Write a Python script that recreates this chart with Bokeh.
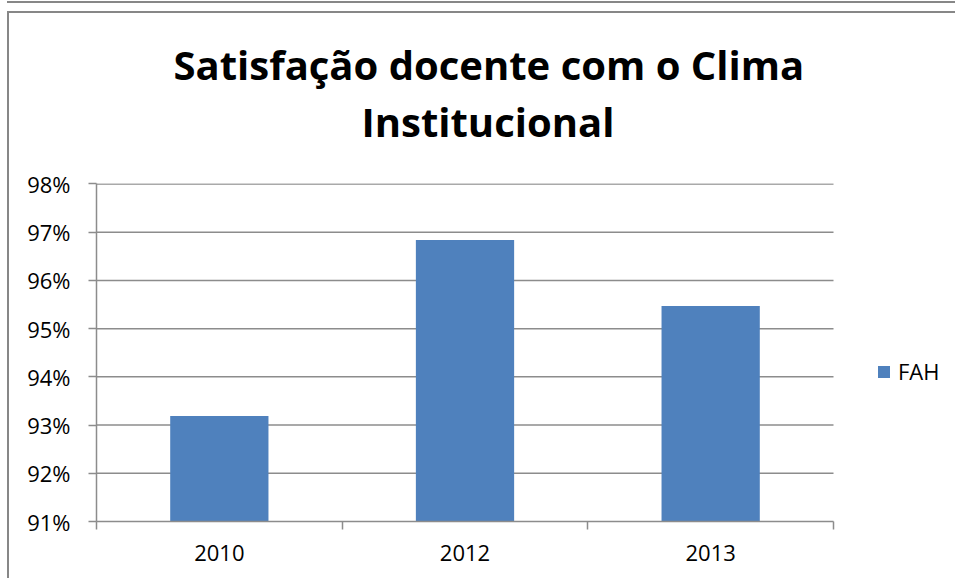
from bokeh.plotting import figure
from bokeh.models import (Range1d, FixedTicker, NumeralTickFormatter, Legend, LegendItem,
                          Title, ColumnDataSource)
from bokeh.embed import file_html
from bokeh.resources import INLINE

# ---- data ----
categories = ["2010", "2012", "2013"]
values = [0.9319, 0.9684, 0.9547]
series_name = "FAH"
y_ticks = [0.91, 0.92, 0.93, 0.94, 0.95, 0.96, 0.97, 0.98]
title_lines = ["Satisfação docente com o Clima", "Institucional"]

BAR = "#4F81BD"
GRID = "#8C8C8C"
BOX = "#878787"
FONT = "Open Sans"

# layout (pixels)
W, H = 948, 567
LEFT, TOP, BOTTOM = 87, 170, 59
PLOT_W = 737            # width of the category area
FRAME_W = W - LEFT      # frame runs to the right edge (room for the legend)

n = len(categories)
centers = [i + 0.5 for i in range(n)]
bounds = [float(i) for i in range(n + 1)]

p = figure(width=W, height=H, output_backend="svg", toolbar_location=None,
           x_range=Range1d(0, n * FRAME_W / PLOT_W),
           y_range=Range1d(y_ticks[0], y_ticks[-1] + 0.0001),
           min_border_left=LEFT, min_border_right=0, min_border_top=TOP,
           min_border_bottom=BOTTOM)
p.styles = {"margin-left": "7px", "margin-top": "11px",
            "border-left": f"2px solid {BOX}", "border-top": f"2px solid {BOX}",
            "box-shadow": f"0 -8px 0 0 white, 0 -10px 0 0 {BOX}"}
p.outline_line_color = None
p.background_fill_color = "white"
p.border_fill_color = "white"

# horizontal gridlines (limited to the category area)
grid_y = y_ticks[1:]
p.segment(x0=[0] * len(grid_y), x1=[n] * len(grid_y), y0=grid_y, y1=grid_y,
          line_color=GRID, line_width=1.5)

src = ColumnDataSource(dict(x=centers, top=values, cat=categories))
r = p.vbar(x="x", top="top", bottom=y_ticks[0] - 1, width=0.4, source=src,
           fill_color=BAR, line_color=None)

# axes
xa = p.xaxis[0]
xa.bounds = (0, n)
xa.ticker = FixedTicker(ticks=centers, minor_ticks=bounds)
xa.major_label_overrides = {c: lab for c, lab in zip(centers, categories)}
xa.major_tick_out = 0
xa.major_tick_in = 0
xa.minor_tick_out = 8
xa.minor_tick_in = 0
xa.minor_tick_line_color = GRID
xa.minor_tick_line_width = 1.5
xa.axis_line_color = GRID
xa.axis_line_width = 1.5
xa.major_label_text_font = FONT
xa.major_label_text_font_size = "22px"
xa.major_label_text_color = "black"
xa.major_label_standoff = 15

ya = p.yaxis[0]
ya.ticker = FixedTicker(ticks=y_ticks)
ya.formatter = NumeralTickFormatter(format="0%")
ya.major_tick_out = 8
ya.major_tick_in = 0
ya.minor_tick_out = 0
ya.minor_tick_in = 0
ya.major_tick_line_color = GRID
ya.major_tick_line_width = 1.5
ya.axis_line_color = GRID
ya.axis_line_width = 1.5
ya.major_label_text_font = FONT
ya.major_label_text_font_size = "22px"
ya.major_label_text_color = "black"
ya.major_label_standoff = 18

p.xgrid.grid_line_color = None
p.ygrid.grid_line_color = None

# legend (inside the frame, right of the category area)
legend = Legend(items=[LegendItem(label=series_name, renderers=[r])],
                location=(780, 135), orientation="vertical",
                glyph_width=15, glyph_height=15, label_standoff=7,
                padding=0, margin=0, spacing=0,
                border_line_color=None, background_fill_alpha=0,
                label_text_font=FONT, label_text_font_size="22px",
                label_text_color="black")
p.add_layout(legend, "center")

# title: stacked in the "above" panel (first added sits next to the frame)
p.add_layout(Title(text=" ", align="left", standoff=30, text_font=FONT,
                   text_font_size="1px"), "above")
p.add_layout(Title(text=title_lines[1], align="left", offset=265, vertical_align="top",
                   standoff=0, text_font=FONT, text_font_style="bold",
                   text_font_size="40px", text_color="black"), "above")
p.add_layout(Title(text=title_lines[0], align="left", offset=77, vertical_align="top",
                   standoff=0, text_font=FONT, text_font_style="bold",
                   text_font_size="40px", text_color="black"), "above")

open("out.html", "w").write(file_html(p, INLINE))
